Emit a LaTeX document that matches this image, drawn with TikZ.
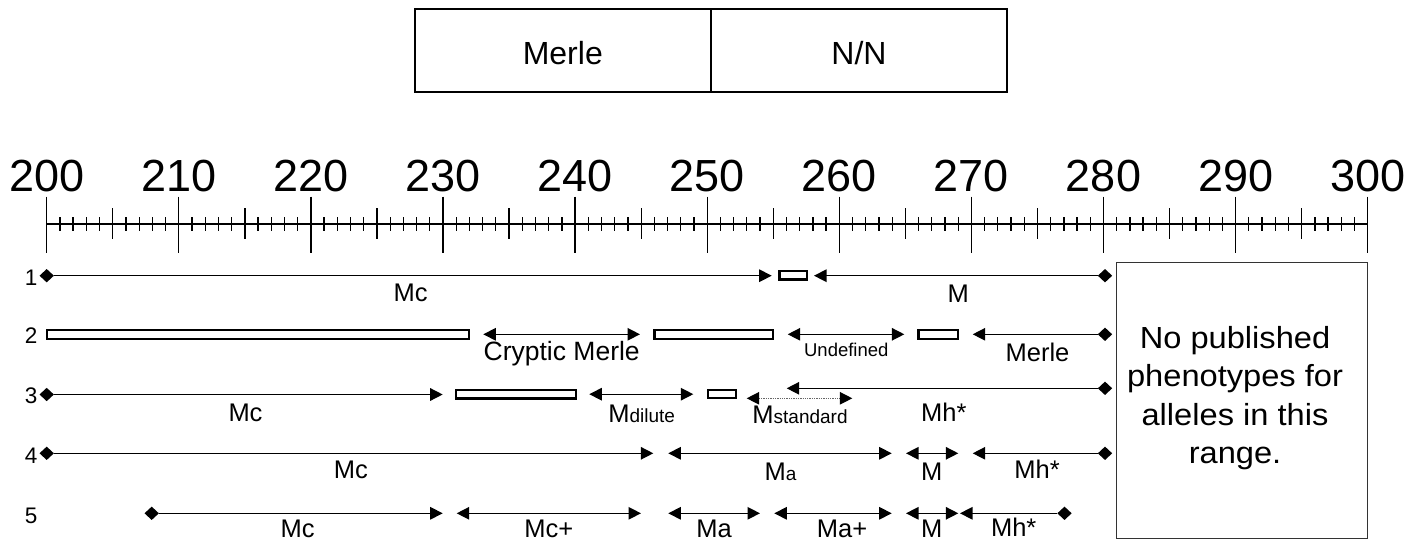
\documentclass[tikz,border=0pt]{standalone}
\usepackage{fontspec}
\setmainfont{Liberation Sans}
\newfontfamily\boxfont[FakeStretch=1.07]{Liberation Sans}
\usetikzlibrary{arrows.meta,shapes.geometric}
\newcommand\subtxt[1]{{\fontsize{19}{22}\selectfont #1}}
\tikzset{
  lbl/.style={anchor=base,inner sep=0,font=\fontsize{25.5}{30}\selectfont},
  rowno/.style={anchor=base east,inner sep=0,font=\fontsize{22.5}{26}\selectfont},
  dmd/.style={diamond,fill=black,draw=none,inner sep=0,minimum width=14.5pt,minimum height=13.5pt},
  seg/.style={line width=1.4pt},
  rarr/.style={seg,-{Triangle[length=12.5pt,width=12.5pt]}},
  larr/.style={seg,{Triangle[length=12.5pt,width=12.5pt]}-},
  darr/.style={seg,{Triangle[length=12.5pt,width=12.5pt]}-{Triangle[length=12.5pt,width=12.5pt]}},
  dotarr/.style={line width=1.3pt,densely dotted,draw=black!60,{Triangle[length=12.5pt,width=12.5pt,fill=black,color=black]}-{Triangle[length=12.5pt,width=12.5pt,fill=black,color=black]}},
  gapbox/.style={rectangle,draw,line width=2.2pt,minimum height=8.5pt,inner sep=0},
  topbox/.style={rectangle,draw,line width=2.5pt,minimum width=296pt,minimum height=83pt,inner sep=0,
    font=\fontsize{32}{36}\selectfont,text height=35pt,text depth=6pt},
}
\begin{document}
\begin{tikzpicture}[x=1pt,y=-1pt]
\useasboundingbox (0,0) rectangle (1423,540);

% top box
\node[topbox] (merle) at (562.8,50.5) {Merle};
\node[topbox] (nn) at (859,50.5) {N/N};

% scale
\coordinate (ax0) at (46.7,224);
\coordinate (ax1) at (1367.7,224);
\draw[line width=1.7pt] (ax0) -- (ax1);
\foreach \i in {0,...,100}{
  \draw[line width=1.3pt] (46.7+\i*13.21,217.3) -- (46.7+\i*13.21,230.7);
}
\foreach \i in {0,5,...,100}{
  \draw[line width=1.3pt] (46.7+\i*13.21,208.3) -- (46.7+\i*13.21,239.3);
}
\foreach \k in {0,...,10}{
  \draw[line width=1.3pt] (46.7+\k*132.1,196.7) -- (46.7+\k*132.1,252.7);
  \pgfmathtruncatemacro\v{200+10*\k}
  \node[anchor=base,inner sep=0,font=\fontsize{45}{50}\selectfont] (n\k) at (46.7+\k*132.1,191.7) {\v};
}

% row numbers
\node[rowno] (row1) at (37.5,285) {1};
\node[rowno] (row2) at (37.5,343.3) {2};
\node[rowno] (row3) at (37.5,403) {3};
\node[rowno] (row4) at (37.5,463) {4};
\node[rowno] (row5) at (37.5,523) {5};

% ---------- row 1 ----------
\node[dmd] (d1a) at (46.7,275.7) {};
\coordinate (t1a) at (771.7,275.7);
\draw[rarr] (d1a) -- (t1a);
\node[gapbox,minimum width=27.8pt] (r1) at (793.3,275.3) {};
\coordinate (t1b) at (814,275.7);
\node[dmd] (d1b) at (1105,275.7) {};
\draw[larr] (t1b) -- (d1b);
\node[lbl] (l1a) at (410.5,301.7) {Mc};
\node[lbl] (l1b) at (958.3,302) {M};

% ---------- row 2 ----------
\node[gapbox,minimum width=421.8pt] (r2a) at (258,334.6) {};
\coordinate (a2a) at (483.3,334.3);
\coordinate (b2a) at (640,334.3);
\draw[darr] (a2a) -- (b2a);
\node[gapbox,minimum width=118.8pt] (r2b) at (713.8,334.6) {};
\coordinate (a2b) at (787.7,334.3);
\coordinate (b2b) at (904.3,334.3);
\draw[darr] (a2b) -- (b2b);
\node[gapbox,minimum width=39.8pt] (r2c) at (938.3,334.6) {};
\coordinate (t2c) at (972.7,334.3);
\node[dmd] (d2) at (1105,334.3) {};
\draw[larr] (t2c) -- (d2);
\node[lbl,font=\fontsize{26.5}{30}\selectfont] (l2a) at (561.7,360.7) {Cryptic Merle};
\node[lbl,font=\fontsize{18.5}{22}\selectfont] (l2b) at (846.3,356.7) {Undefined};
\node[lbl] (l2c) at (1037.5,361.7) {Merle};

% ---------- row 3 ----------
\node[dmd] (d3a) at (46.7,394.5) {};
\coordinate (t3a) at (442.7,394.5);
\draw[rarr] (d3a) -- (t3a);
\node[gapbox,minimum width=119.5pt] (r3a) at (515.9,394.2) {};
\coordinate (a3b) at (589.3,394.2);
\coordinate (b3b) at (693.3,394.2);
\draw[darr] (a3b) -- (b3b);
\node[gapbox,minimum width=27.8pt] (r3b) at (721.7,394) {};
\coordinate (a3c) at (746.7,398.3);
\coordinate (b3c) at (852.3,398.3);
\draw[dotarr] (a3c) -- (b3c);
\coordinate (t3d) at (786.7,388.3);
\node[dmd] (d3b) at (1105,388.3) {};
\draw[larr] (t3d) -- (d3b);
\node[lbl] (l3a) at (245.5,421.7) {Mc};
\node[lbl] (l3b) at (641.7,422.3) {M\subtxt{dilute}};
\node[lbl] (l3c) at (800,423.3) {M\subtxt{standard}};
\node[lbl] (l3d) at (943.8,421.7) {Mh*};

% ---------- row 4 ----------
\node[dmd] (d4a) at (46.7,453.3) {};
\coordinate (t4a) at (653.3,453.3);
\draw[rarr] (d4a) -- (t4a);
\coordinate (a4b) at (668.3,453.3);
\coordinate (b4b) at (891.7,453.3);
\draw[darr] (a4b) -- (b4b);
\coordinate (a4c) at (906,453.3);
\coordinate (b4c) at (958.3,453.3);
\draw[darr] (a4c) -- (b4c);
\coordinate (t4d) at (972.7,453.3);
\node[dmd] (d4b) at (1105,453.3) {};
\draw[larr] (t4d) -- (d4b);
\node[lbl] (l4a) at (350.8,478.3) {Mc};
\node[lbl] (l4b) at (780.5,480) {M\subtxt{a}};
\node[lbl] (l4c) at (931.7,480.7) {M};
\node[lbl] (l4d) at (1037,478.3) {Mh*};

% ---------- row 5 ----------
\node[dmd] (d5a) at (151.7,513.3) {};
\coordinate (t5a) at (442.7,513.3);
\draw[rarr] (d5a) -- (t5a);
\coordinate (a5b) at (456.7,513.3);
\coordinate (b5b) at (641,513.3);
\draw[darr] (a5b) -- (b5b);
\coordinate (a5c) at (668.3,513.3);
\coordinate (b5c) at (760,513.3);
\draw[darr] (a5c) -- (b5c);
\coordinate (a5d) at (774.3,513.3);
\coordinate (b5d) at (891.7,513.3);
\draw[darr] (a5d) -- (b5d);
\coordinate (a5e) at (906,513.3);
\coordinate (b5e) at (958.3,513.3);
\draw[darr] (a5e) -- (b5e);
\coordinate (t5f) at (960,513.3);
\node[dmd] (d5b) at (1064.5,513.3) {};
\draw[larr] (t5f) -- (d5b);
\node[lbl] (l5a) at (297.5,537) {Mc};
\node[lbl] (l5b) at (548.7,537) {Mc+};
\node[lbl] (l5c) at (714,537) {Ma};
\node[lbl] (l5d) at (842,537) {Ma+};
\node[lbl] (l5e) at (931.7,537) {M};
\node[lbl] (l5f) at (1013.7,536.5) {Mh*};

% ---------- right box ----------
\node[rectangle,draw=black!80,line width=1pt,minimum width=250.7pt,minimum height=275.2pt,inner sep=0] (nobox) at (1241.85,400.4) {};
\node[align=center,inner sep=0,font=\boxfont\fontsize{30.5}{38.4}\selectfont] (notext) at (1235,398.2)
  {No published\\phenotypes for\\alleles in this\\range.};
\end{tikzpicture}
\end{document}
